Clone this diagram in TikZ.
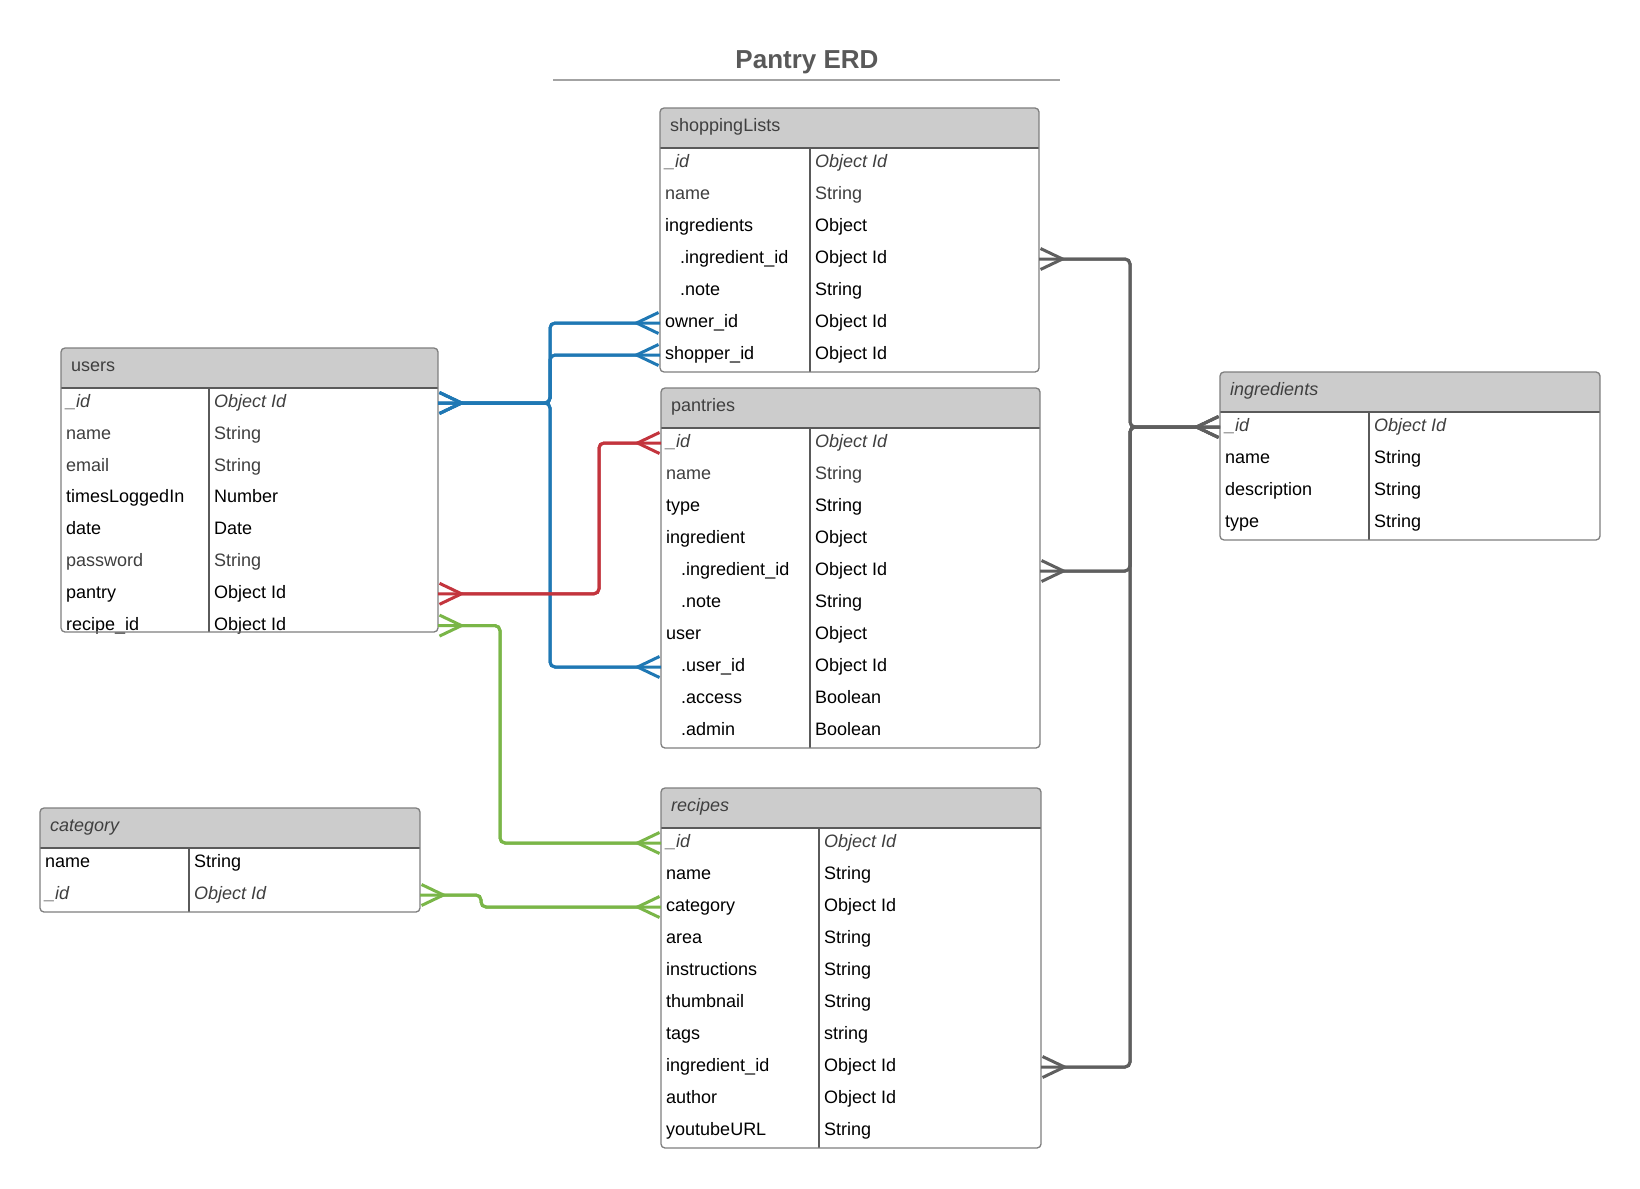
\documentclass[tikz,border=0pt]{standalone}
\usepackage{fontspec}
\setmainfont{Liberation Sans}
\usetikzlibrary{arrows.meta}

\definecolor{headgray}{HTML}{CCCCCC}
\definecolor{boxgray}{HTML}{7F7F7F}
\definecolor{rulegray}{HTML}{5A5A5A}
\definecolor{softblack}{HTML}{3F3F3F}
\definecolor{titlegray}{HTML}{595959}
\definecolor{linkblue}{HTML}{1F78B4}
\definecolor{linkred}{HTML}{C3343D}
\definecolor{linkgreen}{HTML}{7AB648}
\definecolor{linkgray}{HTML}{5F5F5F}

\newcommand{\fieldfont}{\fontsize{18}{21}\selectfont}
\newcommand{\subfield}[1]{\hspace*{15pt}#1}

\tikzset{
  Crow/.tip={Straight Barb[reversed, length=22pt, width=21pt]},
  tablebox/.style={draw=boxgray, line width=1.3pt, rounded corners=4pt, inner sep=0pt, outer sep=0pt, anchor=north west},
  headrule/.style={draw=rulegray, line width=1.3pt},
  colrule/.style={draw=rulegray, line width=1.1pt},
  plainrow/.style={anchor=west, inner sep=0pt, text height=13pt, text depth=4pt, font=\fieldfont, text=black},
  dimrow/.style={plainrow, text=softblack},
  idrow/.style={plainrow, text=softblack, font=\fieldfont\itshape},
  headtext/.style={plainrow, text=softblack},
  crowlink/.style={line width=3pt, rounded corners=5pt, postaction={draw, Crow-Crow}},
}

% #1 name, #2 title, #3 left, #4 top, #5 right, #6 column, #7 bottom, #8 row pitch, #9 rows
\newcommand{\erdtable}[9]{%
  \begin{scope}
    \clip[rounded corners=4pt] (#3,#4) rectangle (#5,#7);
    \fill[headgray] (#3,#4) rectangle (#5,#4+40);
  \end{scope}
  \draw[headrule] (#3,#4+40) -- (#5,#4+40);
  \draw[colrule] (#6,#4+40) -- (#6,#7);
  \node[headtext] (#1-title) at (#3+10,#4+19) {#2};
  \foreach \field/\ftype/\fstyle [count=\i from 0] in {#9} {
    \node[\fstyle] (#1-\i) at (#3+5,#4+55+#8*\i) {\field};
    \node[\fstyle] (#1-\i-type) at (#6+5,#4+55+#8*\i) {\ftype};
  }
  \node[tablebox, minimum width={(#5-#3)*1pt}, minimum height={(#7-#4)*1pt}] (#1) at (#3,#4) {};
}

\begin{document}
\begin{tikzpicture}[x=1pt, y=-1pt]
  \useasboundingbox[fill=white] (0,0) rectangle (1640,1188);

  % title
  \node[font=\fontsize{26}{30}\selectfont\bfseries, text=titlegray] (title) at (807,62) {Pantry ERD};
  \draw[line width=2pt, draw=headgray!80!black] (553,80.5) -- (1060,80.5);

  % tables
  \erdtable{shop}{shoppingLists}{660}{108}{1039}{810}{372}{32}{%
    \_id/Object Id/idrow, name/String/dimrow, ingredients/Object/plainrow,
    \subfield{.ingredient\_id}/Object Id/plainrow, \subfield{.note}/String/plainrow,
    owner\_id/Object Id/plainrow, shopper\_id/Object Id/plainrow}
  \erdtable{users}{users}{61}{348}{438}{209}{632}{31.8}{%
    \_id/Object Id/idrow, name/String/dimrow, email/String/dimrow,
    timesLoggedIn/Number/plainrow, date/Date/plainrow, password/String/dimrow,
    pantry/Object Id/plainrow, recipe\_id/Object Id/plainrow}
  \erdtable{pant}{pantries}{661}{388}{1040}{810}{748}{32}{%
    \_id/Object Id/idrow, name/String/dimrow, type/String/plainrow,
    ingredient/Object/plainrow, \subfield{.ingredient\_id}/Object Id/plainrow,
    \subfield{.note}/String/plainrow, user/Object/plainrow,
    \subfield{.user\_id}/Object Id/plainrow, \subfield{.access}/Boolean/plainrow,
    \subfield{.admin}/Boolean/plainrow}
  \erdtable{ingr}{\itshape ingredients}{1220}{372}{1600}{1369}{540}{32}{%
    \_id/Object Id/idrow, name/String/plainrow, description/String/plainrow,
    type/String/plainrow}
  \erdtable{cat}{\itshape category}{40}{808}{420}{189}{912}{32}{%
    name/String/plainrow, \_id/Object Id/idrow}
  \erdtable{reci}{\itshape recipes}{661}{788}{1041}{819}{1148}{32}{%
    \_id/Object Id/idrow, name/String/plainrow, category/Object Id/plainrow,
    area/String/plainrow, instructions/String/plainrow, thumbnail/String/plainrow,
    tags/string/plainrow, ingredient\_id/Object Id/plainrow,
    author/Object Id/plainrow, youtubeURL/String/plainrow}

  % buses
  \coordinate (bluebus) at (550,0);
  \coordinate (redbus) at (599,0);
  \coordinate (greenbus) at (500,0);
  \coordinate (catjog) at (481,0);
  \coordinate (graybus) at (1130,0);

  % relations
  \draw[crowlink, linkblue] (users.east |- users-0) -| (bluebus |- shop-5) -- (shop.west |- shop-5);
  \draw[crowlink, linkblue] (users.east |- users-0) -| (bluebus |- shop-6) -- (shop.west |- shop-6);
  \draw[crowlink, linkblue] (users.east |- users-0) -| (bluebus |- pant-7) -- (pant.west |- pant-7);
  \draw[crowlink, linkred] (users.east |- users-6) -| (redbus |- pant-0) -- (pant.west |- pant-0);
  \draw[crowlink, linkgreen] (users.east |- users-7) -| (greenbus |- reci-0) -- (reci.west |- reci-0);
  \draw[crowlink, linkgreen] (cat.east |- cat-1) -| (catjog |- reci-2) -- (reci.west |- reci-2);
  \draw[crowlink, linkgray] (ingr.west |- ingr-0) -| (graybus |- shop-3) -- (shop.east |- shop-3);
  \draw[crowlink, linkgray] (ingr.west |- ingr-0) -| (graybus |- pant-4) -- (pant.east |- pant-4);
  \draw[crowlink, linkgray] (ingr.west |- ingr-0) -| (graybus |- reci-7) -- (reci.east |- reci-7);
\end{tikzpicture}
\end{document}
